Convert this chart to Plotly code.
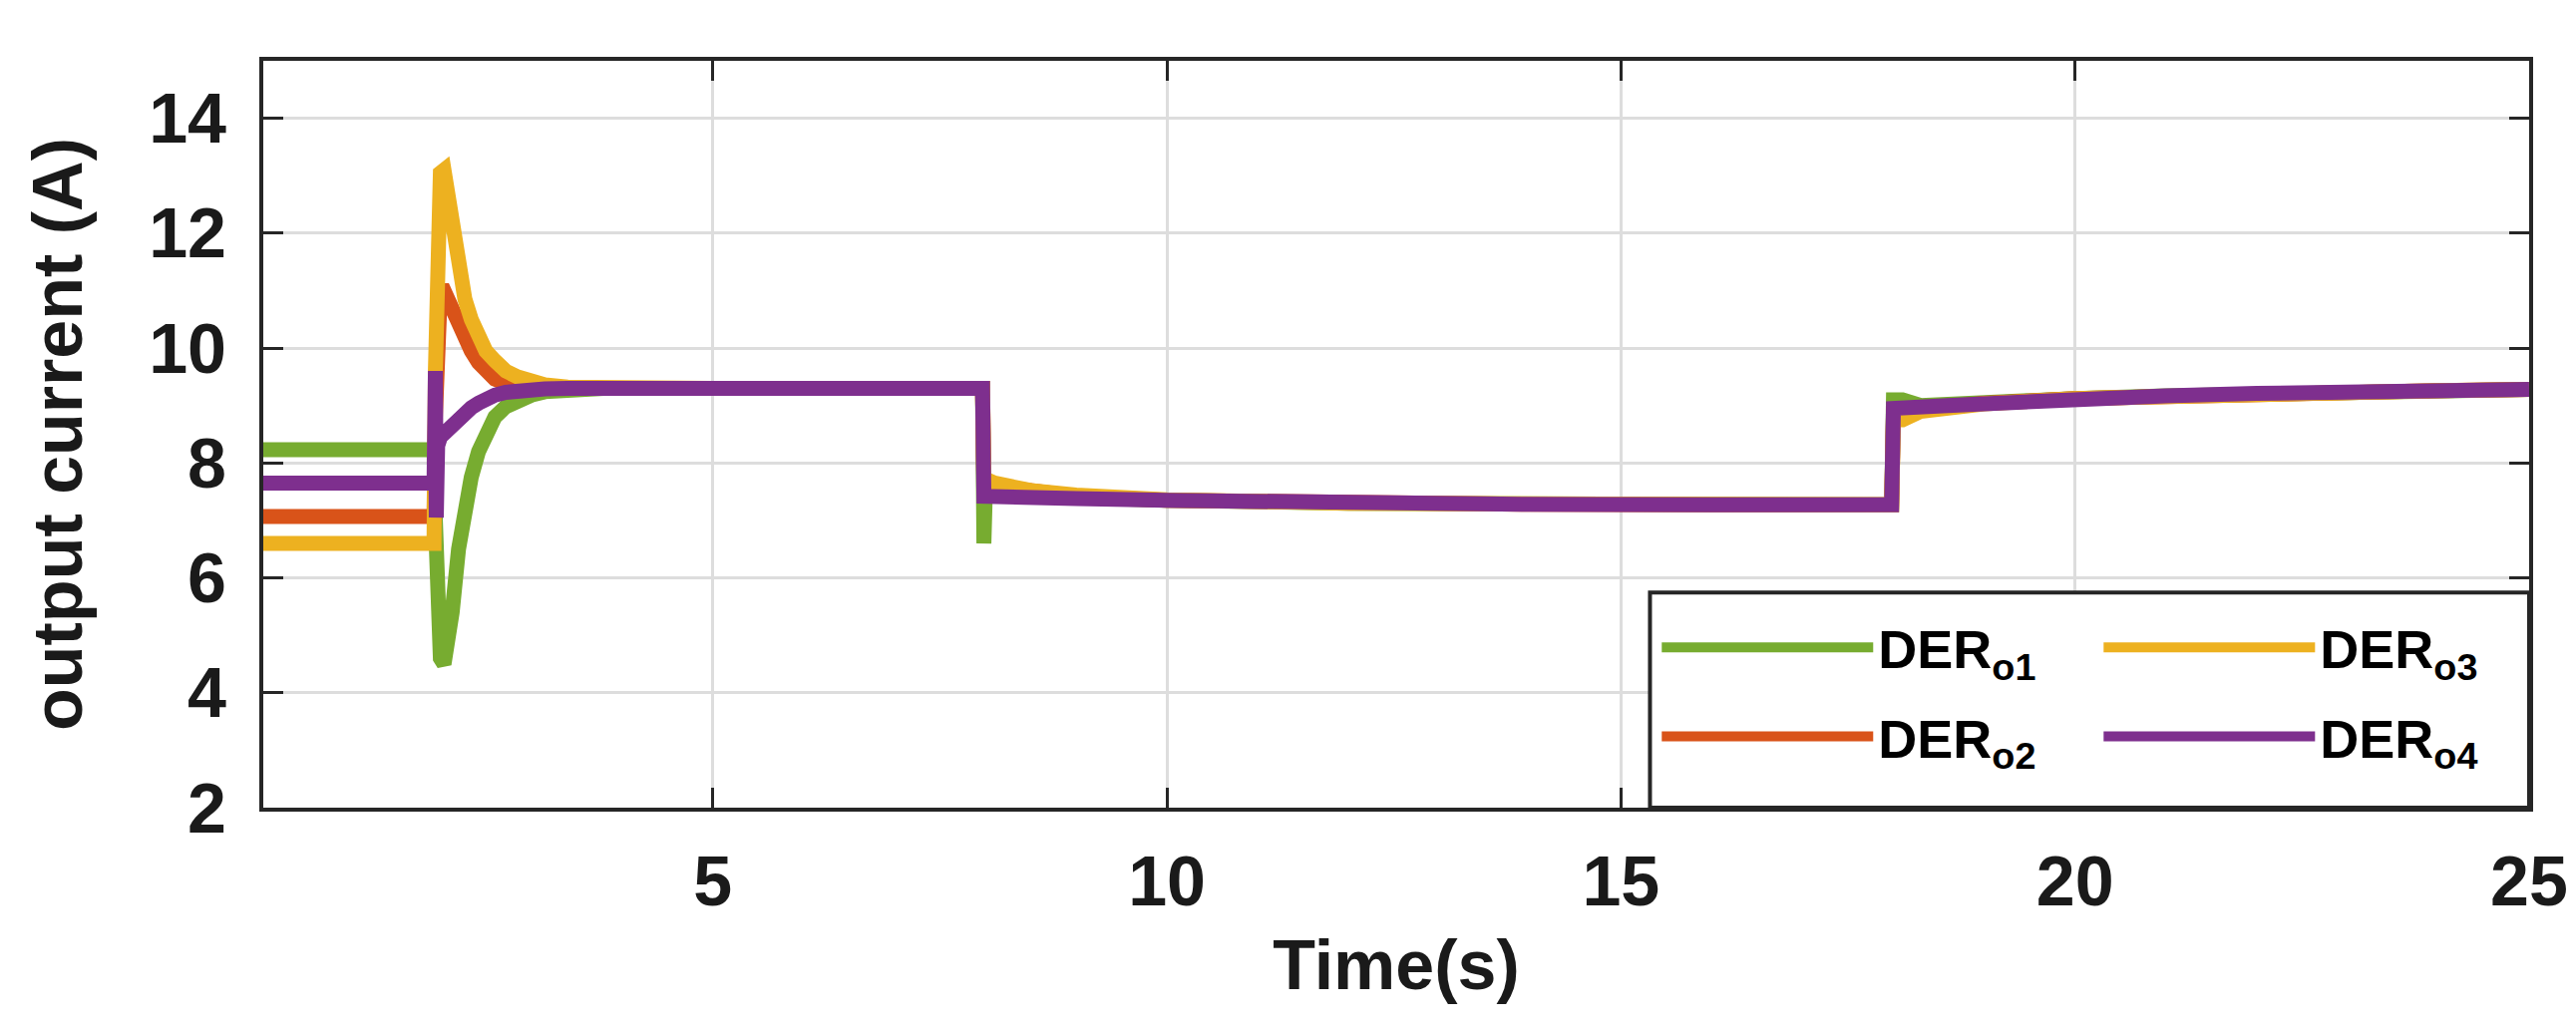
import plotly.graph_objects as go

# time axis (s), shared by all four outputs
time_s = [0.05, 1.93, 1.945, 1.955, 1.97, 2.0, 2.04, 2.08, 2.13, 2.2,
          2.27, 2.34, 2.42, 2.5, 2.6, 2.72, 2.85, 3.0, 3.15, 3.4,
          3.8, 5.0, 6.5, 7.97, 7.985, 8.0, 8.1, 8.5, 9.0, 10.0,
          12.0, 14.0, 16.0, 17.98, 18.0, 18.1, 18.3, 18.6, 19.0, 20.0,
          21.0, 22.0, 23.0, 24.0, 25.0]

der_o1 = [8.23, 8.23, 7.0, 6.0, 5.2, 4.6, 4.5, 4.8, 5.4, 6.5,
          7.2, 7.75, 8.2, 8.55, 8.8, 8.98, 9.1, 9.18, 9.24, 9.28,
          9.3, 9.3, 9.3, 9.3, 6.6, 7.45, 7.45, 7.42, 7.39, 7.35,
          7.3, 7.28, 7.27, 7.27, 9.1, 9.1, 9.0, 9.01, 9.04, 9.12,
          9.17, 9.21, 9.24, 9.26, 9.28]

der_o2 = [7.07, 7.07, 8.8, 10.0, 10.7, 11.0, 11.0, 10.85, 10.7, 10.5,
          10.2, 9.95, 9.75, 9.58, 9.46, 9.38, 9.34, 9.31, 9.3, 9.3,
          9.3, 9.3, 9.3, 9.3, 7.7, 7.65, 7.6, 7.5, 7.42, 7.35,
          7.3, 7.28, 7.27, 7.27, 8.85, 8.85, 8.93, 8.99, 9.04, 9.12,
          9.17, 9.21, 9.24, 9.26, 9.28]

der_o3 = [6.6, 6.6, 9.6, 11.5, 12.5, 13.05, 13.1, 12.7, 12.0, 11.3,
          10.85, 10.5, 10.2, 9.95, 9.78, 9.6, 9.5, 9.42, 9.36, 9.32,
          9.3, 9.3, 9.3, 9.3, 7.8, 7.72, 7.65, 7.52, 7.44, 7.36,
          7.3, 7.28, 7.27, 7.27, 8.75, 8.75, 8.9, 8.98, 9.03, 9.12,
          9.17, 9.21, 9.24, 9.26, 9.28]

der_o4 = [7.65, 7.65, 9.6, 7.05, 8.3, 8.45, 8.52, 8.6, 8.68, 8.78,
          8.88, 8.96, 9.04, 9.12, 9.18, 9.23, 9.26, 9.28, 9.29, 9.3,
          9.3, 9.3, 9.3, 9.3, 7.42, 7.42, 7.42, 7.4, 7.38, 7.35,
          7.3, 7.28, 7.27, 7.27, 8.95, 8.95, 8.97, 9.0, 9.03, 9.12,
          9.17, 9.21, 9.24, 9.26, 9.28]

series_names = ["DER<sub>o1</sub>", "DER<sub>o2</sub>", "DER<sub>o3</sub>", "DER<sub>o4</sub>"]
series_values = [der_o1, der_o2, der_o3, der_o4]
series_colors = ["#77AC30", "#D95319", "#EDB120", "#7E2F8E"]
series_legend = ["legend", "legend", "legend2", "legend2"]

x_ticks = [5, 10, 15, 20, 25]
y_ticks = [2, 4, 6, 8, 10, 12, 14]

FONT = "Liberation Sans, Arial, sans-serif"
INK = "#1a1a1a"

fig = go.Figure()
for name, vals, col, lg in zip(series_names, series_values, series_colors, series_legend):
    fig.add_trace(go.Scatter(
        x=time_s, y=vals, mode="lines", name=name, legendgroup=name,
        line=dict(color=col, width=15), legend=lg,
    ))

# white legend box with a frame (the two legends sit inside it)
fig.add_shape(type="rect", xref="paper", yref="paper",
              x0=0.612, x1=1.0, y0=0.0, y1=0.288,
              line=dict(color="#262626", width=4), fillcolor="white", layer="above")

axis_common = dict(
    showline=True, linecolor="#262626", linewidth=4, mirror="ticks",
    ticks="inside", ticklen=20, tickwidth=3, tickcolor="#262626",
    showgrid=True, gridcolor="#DDDDDD", gridwidth=3, zeroline=False,
    tickfont=dict(family=FONT, size=70, color=INK, weight="bold"),
)

fig.update_xaxes(range=[0.05, 25], tickvals=x_ticks, ticklabelstandoff=10,
                 title=dict(text="Time(s)", standoff=22,
                            font=dict(family=FONT, size=70, color=INK, weight="bold")),
                 **axis_common)
fig.update_yaxes(range=[2, 15], tickvals=y_ticks, ticklabelstandoff=19,
                 title=dict(text="output current (A)", standoff=45,
                            font=dict(family=FONT, size=70, color=INK, weight="bold")),
                 **axis_common)

legend_common = dict(
    bgcolor="rgba(0,0,0,0)", borderwidth=0, itemwidth=212,
    font=dict(family=FONT, size=54, color="#000000", weight="bold"),
    xanchor="left", yanchor="top", tracegroupgap=16,
)
fig.update_layout(
    width=2583, height=1037,
    margin=dict(l=256, r=55, t=53, b=235),
    paper_bgcolor="white", plot_bgcolor="white",
    showlegend=True,
    legend=dict(x=0.615, y=0.27, **legend_common),
    legend2=dict(x=0.81, y=0.27, **legend_common),
)

fig.write_html("out.html")
